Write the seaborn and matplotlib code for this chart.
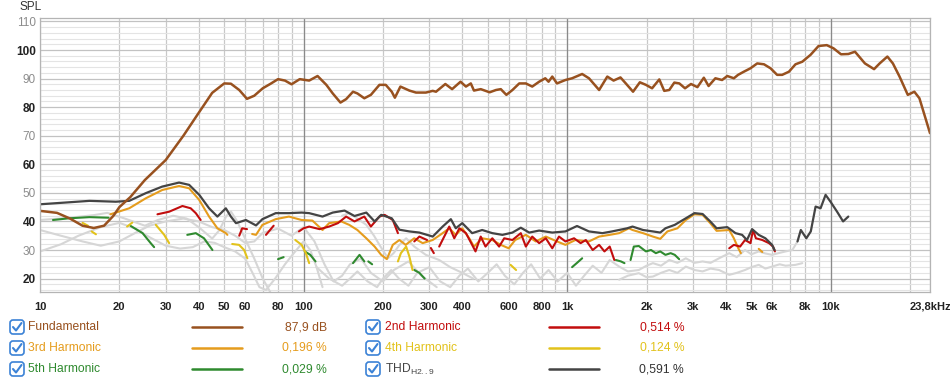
import numpy as np
import pandas as pd
import matplotlib.pyplot as plt
import seaborn as sns
from matplotlib.patches import FancyBboxPatch
from matplotlib.ticker import FixedLocator

nan = np.nan

# Fundamental response (Hz, dB SPL)
fund_f = [10, 11.6, 13, 14.5, 16, 17.5, 19, 20, 22, 25, 30, 35, 40, 45, 50, 53, 57, 61, 65, 70,
          75, 80, 85, 90, 96.7, 105, 113, 122, 129, 138, 145, 154, 160, 170, 180, 194, 205, 216,
          222, 233, 252, 267, 291, 309, 318, 345, 366, 394, 413, 431, 443, 470, 508, 537, 560,
          588, 620, 658, 697, 737, 783, 826, 850, 878, 915, 985, 1044, 1140, 1210, 1322, 1420,
          1500, 1593, 1669, 1778, 1887, 1990, 2100, 2236, 2335, 2440, 2550, 2664, 2800, 2950,
          3120, 3300, 3440, 3650, 3870, 4050, 4290, 4450, 4680, 4960, 5260, 5580, 5910, 6260,
          6540, 6940, 7350, 7800, 8380, 8990, 9660, 10240, 10940, 11660, 12360, 13480, 14600,
          15330, 16400, 17210, 18240, 19600, 20760, 21700, 23800]
fund_db = [43.7, 43, 41, 38.5, 37.7, 38.5, 42, 45, 48.5, 54.5, 61.5, 70, 78, 85, 88.3, 88.2, 86,
           82.9, 84, 86.6, 88.2, 89.8, 89.3, 88, 89.8, 89.3, 90.9, 87.8, 84.8, 81.6, 82.8, 85.4,
           84.8, 83.1, 84.3, 87.8, 87.8, 85.4, 83.3, 87.2, 85.8, 85.1, 85.1, 85.7, 85.4, 88.1,
           86.3, 88.9, 87.2, 88.3, 85.8, 86.3, 85.2, 86, 86.3, 84.3, 86, 88.3, 88.3, 87.2, 88.9,
           90.1, 88.9, 90.7, 88.3, 89.5, 90.1, 91.6, 90.1, 86, 90.7, 89.3, 90.4, 88.3, 85.4,
           88.7, 87.8, 86.6, 89.7, 85.7, 86, 88.6, 88.3, 86.6, 88.1, 87, 90.3, 87.4, 90.1, 89.5,
           90.9, 90.1, 91.3, 92.4, 93.6, 95.3, 95, 93.6, 91.3, 91.3, 92.4, 95, 95.9, 98.3, 101.4,
           101.7, 100.6, 98.5, 98.6, 99.4, 95.3, 93.3, 95.3, 97.7, 95.3, 90.7, 84.3, 85.4, 83.1,
           70.9]

# THD H2..9 (nan = gap)
thd_f = [10, 12.9, 15.4, 19.4, 21.8, 25.2, 29.1, 33.7, 36.8, 40.2, 43.8, 47.1, 50.7, 53, 55.4,
         60.4, 66, 69.8, 78.4, 88, 98.3, 105, 118, 129, 143, 156, 173, 186, 197, 216, 231, 252,
         275, 309, 337, 362, 378, 400, 436, 476, 520, 568, 620, 667, 718, 783, 878, 985, 1090,
         1210, 1360, 1480, 1690, 1770, 1940, 2115, 2255, 2360, 2560, 2820, 3040, 3265, 3490,
         3690, 4050, 4350, 4610, 4810, 5030, 5330, 5650, 5990, 6120, nan, 7480, 7700, 8080,
         8400, 8760, 9150, 9560, 9980, 10570, 11140, 11660]
thd_db = [46.0, 46.7, 47.2, 46.9, 47.2, 49.9, 52.2, 53.6, 52.8, 49.3, 44.6, 41.7, 44.6, 41.7,
          39.4, 40.5, 38.6, 40.8, 42.9, 42.9, 43.1, 42.9, 41.7, 43.1, 43.8, 41.9, 43.1, 40, 42.3,
          41.1, 37.1, 36.5, 36.1, 34.7, 38.2, 40.8, 37.6, 39.4, 35.9, 37.0, 35.9, 35.3, 36.1,
          37.8, 36.1, 36.8, 36.1, 36.5, 38.4, 36.5, 35.9, 36.5, 37.6, 38.2, 37.0, 36.5, 36.1,
          37.6, 38.8, 41.1, 42.9, 42.6, 40.0, 37.6, 38.0, 35.9, 35.3, 33.5, 37.3, 35.3, 34.1,
          31.8, 30.0, nan, 33.0, 37.0, 34.1, 36.5, 45.2, 44.6, 49.3, 46.9, 43.4, 40.0, 41.7]

# 2nd harmonic
h2_f = [27.9, 30.9, 34.7, 37.3, 39, 40.7, nan, 57, 58.5, 61, nan, 72, 77, nan, 96, 100, 105, 115,
        125, 135, 145, 156, 170, 180, 194, 203, 218, 228, nan, 263, 275, 294, nan, 304, 312, nan,
        327, 357, 373, 390, 413, 436, 449, 470, 490, 520, 552, 577, 620, 667, 697, 737, 783,
        830, 878, 931, 985, 1062, 1125, 1177, 1250, 1322, 1385, 1450, 1510, nan, 4120, 4290,
        4530, 4730, 4960, 5070, 5200, 5500, 5830, 6040, 6140]
h2_db = [42.5, 43.4, 45.4, 44.6, 42.9, 40.5, nan, 35, 37.6, 37.3, nan, 35.3, 38.5, nan, 36.5,
         37.6, 38.2, 37.3, 38.2, 39.4, 41.7, 40.0, 41.7, 38.2, 41.7, 42.3, 40.5, 35.9, nan, 33,
         34.7, 33.5, nan, 30.7, 28.9, nan, 31.2, 38.2, 34.1, 37.6, 35.9, 31.8, 29.5, 34.7, 31.2,
         34.1, 31.2, 34.1, 33.5, 35.9, 31.2, 34.7, 32.4, 34.1, 30.6, 34.7, 33.0, 34.1, 32.4,
         33.5, 30.0, 31.8, 29.5, 31.2, 26.5, nan, 30.6, 31.8, 31.2, 33.5, 32.4, 37.0, 34.1,
         33.5, 32.4, 31.2, 29.5]

# 3rd harmonic
h3_f = [18.5, 21.8, 25.2, 29.1, 33.7, 36.8, 40.2, 43.8, 47.1, 50.7, 51.4, nan, 63.8, 66, 69.8,
        78.4, 88, 98.3, 108, 118, 125, 139, 149, 160, 173, 186, 197, 207, 218, 231, 244, 263,
        283, 309, 337, 357, 378, 400, 425, 443, 476, 520, 560, 600, 635, 697, 760, 830, 915,
        985, 1075, 1210, 1322, 1450, 1575, 1715, 1770, 1940, 2115, 2255, 2400, 2620, 2820,
        3040, 3265, 3490, 3690, 4120, 4290, 4460, 4560, nan, 5330, 5500]
h3_db = [42.5, 44.6, 48.1, 51.0, 52.4, 51.6, 47.5, 41.7, 37.6, 35.9, 35.3, nan, 35.6, 35.3,
         38.8, 40.8, 41.7, 40.5, 40.3, 37.0, 39.4, 40, 38.8, 37.0, 34.1, 31.2, 28.3, 26.8, 31.8,
         33.5, 31.8, 34.1, 32.4, 33.5, 35.9, 37.6, 35.3, 37.6, 34.1, 31.2, 34.1, 33.5, 31.8,
         30.6, 33.5, 35.3, 33.0, 34.7, 33.0, 31.8, 33.5, 33.0, 34.7, 35.3, 35.9, 37.6, 37.0,
         35.9, 34.7, 33.9, 36.5, 37.6, 40.5, 42.5, 42.3, 39.4, 36.7, 37.0, 34.1, 30.6, 28.9,
         nan, 30.4, 29.3]

# 4th harmonic
h4_f = [14.5, 15.2, nan, 15.7, 16.3, nan, 21.4, 22.4, nan, 27.5, 29.6, 30.9, nan, 53.6, 56.9,
        59.5, 61.2, nan, 93, 98.3, 102, 105, nan, 228, 234, 245, 252, 259, nan, 610, 640]
h4_db = [39.5, 38.5, nan, 36.5, 35.5, nan, 38.2, 39.6, nan, 38.8, 35.3, 32.4, nan, 32.1, 31.8,
         30.0, 27.1, nan, 33.5, 31.8, 28.9, 25.4, nan, 26.0, 28.9, 31.2, 27.7, 23.0, nan, 24.8,
         23.0]

# 5th harmonic
h5_f = [11.2, 12.9, 15.4, 18.2, nan, 22.1, 24.5, 26.3, 27.1, nan, 36.2, 39.0, 41.9, 45.1, nan,
        80, 84, nan, 101, 106, 111, nan, 154, 163, 170, nan, 176, 182, nan, 263, 275, 288, nan,
        1044, 1090, 1140, nan, 1530, 1600, 1650, nan, 1740, 1790, 1870, 1990, 2080, 2170, 2255,
        2360, 2470, 2560, 2660]
h5_db = [40.5, 41.1, 41.5, 41.3, nan, 38.4, 35.9, 32.4, 31.0, nan, 35.3, 35.9, 34.1, 30.0, nan,
         26.8, 27.5, nan, 29.5, 28.3, 26.0, nan, 25.4, 28.3, 26.0, nan, 26.0, 25.0, nan, 23.0,
         22.0, 20.0, nan, 24.0, 25.5, 27.1, nan, 26.5, 26.0, 25.4, nan, 26.5, 31.2, 31.4, 29.5,
         30.0, 28.9, 29.5, 28.3, 28.9, 28.3, 26.8]

# light grey traces (higher harmonics, partly hidden)
grey1_f = [10, 13, 16, 18, 21, 25, 28, 32, 36, 40, 45, 48, 51, 53, 56, 60, 65, 70, 75]
grey1_db = [40.5, 41.3, 42.2, 43, 41, 38.5, 40.5, 42, 41, 38, 34, 37, 42, 43.5, 40, 34, 27, 20, 15]
grey2_f = [10, 12, 14.5, 17, 20, 23, 26, 30, 35, 40, 45, 50, 55, 60, 65, 70, 80, 90, 100, 110,
           120, 130, 140, 150, 165, 180, 200, 220, 250, 280, 320]
grey2_db = [37, 35, 33, 31.5, 33, 36, 38.5, 40, 41, 40, 38, 37, 35, 32.5, 33, 36, 37.5, 35, 38,
            33, 25, 19, 21, 25, 27, 22, 19, 23, 26, 21, 17]
grey3_f = [10, 12, 14, 17, 20, 23, 26, 30, 34, 38, 42, 46, 50, 55, 60, 64, 68, 72, 78, 85, 92,
           100, 106, 112, 118]
grey3_db = [29.5, 32, 35, 38, 39.5, 37.5, 34.5, 31.5, 30.5, 31, 33, 32.5, 31, 29.5, 27, 22, 17,
            16, 20, 25, 29, 33, 30, 24, 17]
grey4_f = [112, 125, 140, 150, 160, 175, 190, 200, 215, 230, 250, 270, 300, 330, 360, 390, 420,
           460, 500, 540, 580, 630, 680, 730, 790, 850, 920, 1000, 1080, 1160, 1250, 1350, 1450,
           1575, 1700, 1870, 2000, 2115, 2270, 2440, 2620, 2820, 3040, 3265, 3500, 3770, 4120,
           4400, 4730, 5000, 5330, 5650, 5990, 6330, 6740, 7150, 7480]
grey4_db = [24, 20, 17.5, 20, 22.5, 19, 17, 20, 23, 20, 17.5, 22, 24, 19, 17, 21, 23.5, 19, 22,
            25, 21, 18, 22, 25, 20, 23, 19, 22, 17.5, 21, 24.5, 22, 26.5, 24.2, 22.5, 23, 24.5,
            25.4, 24.5, 26.5, 25.5, 27.1, 25.5, 26, 25.5, 27.1, 28.9, 27.5, 30, 28.5, 29.5, 28.8,
            28.3, 28.9, 29.5, 30, 33]
grey5_f = [1575, 1700, 1870, 2000, 2115, 2270, 2440, 2620, 2820, 3040, 3265, 3500, 3770, 4120,
           4400, 4730, 5000, 5330, 5650, 5990, 6400, 6740, 7350, 7800]
grey5_db = [19.6, 21, 21.9, 20.5, 20.7, 22, 23, 22, 24.2, 23, 22.5, 23.5, 23, 21.3, 22, 23, 24,
            24.8, 23.5, 24.2, 25, 24.5, 24.8, 25.4]
grey6_f = [140, 149, 160, 173, 185, 194, 209, 220, 231, 245, 263, 291, 327, 360, 400, 440]
grey6_db = [42, 42.9, 41, 38.8, 35, 31.8, 27.1, 29, 31.8, 34.1, 31.2, 28.3, 26.5, 24, 22, 20]

# axis ticks
xtick_pos = [10, 20, 30, 40, 50, 60, 80, 100, 200, 300, 400, 600, 800, 1000, 2000, 3000, 4000,
             5000, 6000, 8000, 10000, 23800]
xtick_labels = ["10", "20", "30", "40", "50", "60", "80", "100", "200", "300", "400", "600",
                "800", "1k", "2k", "3k", "4k", "5k", "6k", "8k", "10k", "23,8kHz"]
ytick_pos = [20, 30, 40, 50, 60, 70, 80, 90, 100, 110]

# legend
legend_names = ["Fundamental", "2nd Harmonic", "3rd Harmonic", "4th Harmonic", "5th Harmonic",
                "THD$_{\\mathregular{H2..9}}$"]
legend_values = ["87,9 dB", "0,514 %", "0,196 %", "0,124 %", "0,029 %", "0,591 %"]

c_fund = "#98511f"
c_h2 = "#c20d0d"
c_h3 = "#e59c1d"
c_h4 = "#e2c21b"
c_h5 = "#2f8a2f"
c_thd = "#444444"
c_grey = "#d6d6d6"


def to_frame(f, db):
    f = np.asarray(f, dtype=float)
    db = np.asarray(db, dtype=float)
    seg = np.cumsum(np.isnan(f))
    return pd.DataFrame({"f": f, "db": db, "seg": seg}).dropna()


sns.set_style("white")
plt.rcParams["font.family"] = ["Liberation Sans", "DejaVu Sans"]

fig = plt.figure(figsize=(9.5, 3.85), dpi=100)
ax = fig.add_axes([40 / 950, 1 - 292 / 385, 890 / 950, 274 / 385])
ax.set_xscale("log")

# grid
minor_x = [k * 10 ** d for d in range(1, 5) for k in range(1, 10)
           if 10 <= k * 10 ** d <= 23800 and k * 10 ** d not in xtick_pos]
ax.set_xticks(xtick_pos)
ax.set_xticklabels(xtick_labels)
ax.xaxis.set_minor_locator(FixedLocator(minor_x))
ax.set_yticks(ytick_pos)
ax.yaxis.set_minor_locator(FixedLocator(list(range(16, 112, 2))))
ax.grid(which="major", axis="x", color="#c8c8c8", lw=0.9)
ax.grid(which="minor", axis="x", color="#c8c8c8", lw=0.9)
ax.grid(which="major", axis="y", color="#c2c2c2", lw=0.9)
ax.grid(which="minor", axis="y", color="#e4e4e4", lw=0.8)
ax.set_axisbelow(True)
for v in (100, 1000, 10000):
    ax.axvline(v, color="#8a8a8a", lw=0.9, zorder=1)

greys = [(grey1_f, grey1_db), (grey2_f, grey2_db), (grey3_f, grey3_db),
         (grey4_f, grey4_db), (grey5_f, grey5_db), (grey6_f, grey6_db)]
for gf, gdb in greys:
    d = to_frame(gf, gdb)
    sns.lineplot(data=d, x="f", y="db", units="seg", estimator=None, sort=False,
                 color=c_grey, lw=1.5, legend=False, ax=ax)

series = [(h5_f, h5_db, c_h5, 1.5), (h4_f, h4_db, c_h4, 1.5), (h3_f, h3_db, c_h3, 1.5),
          (h2_f, h2_db, c_h2, 1.5), (thd_f, thd_db, c_thd, 1.6), (fund_f, fund_db, c_fund, 1.8)]
for sf, sdb, col, w in series:
    d = to_frame(sf, sdb)
    sns.lineplot(data=d, x="f", y="db", units="seg", estimator=None, sort=False,
                 color=col, lw=w, legend=False, ax=ax)

ax.set_xlim(10, 23800)
ax.set_ylim(15.3, 111.2)
ax.set_xlabel("")
ax.set_ylabel("")
ax.tick_params(which="both", length=0)
ax.tick_params(axis="x", pad=7, labelsize=8, labelcolor="#222222")
ax.tick_params(axis="y", pad=3, labelsize=8.5)
for lbl in ax.get_xticklabels():
    lbl.set_fontweight("bold")
for lbl, v in zip(ax.get_yticklabels(), ytick_pos):
    if v % 20 == 0:
        lbl.set_fontweight("bold")
        lbl.set_color("#222222")
    else:
        lbl.set_color("#8c8c8c")
for s in ax.spines.values():
    s.set_color("#b4b4b4")
    s.set_linewidth(0.9)

# overlay in pixel units for the title and legend block
lg = fig.add_axes([0, 0, 1, 1])
lg.set_xlim(0, 950)
lg.set_ylim(385, 0)
lg.axis("off")
lg.text(20, 7, "SPL", fontsize=8.5, color="#333333", va="center", ha="left")

colors = [c_fund, c_h2, c_h3, c_h4, c_h5, c_thd]
rows_y = [327, 348, 369]
for i, (name, val, col) in enumerate(zip(legend_names, legend_values, colors)):
    colnum = i % 2
    cy = rows_y[i // 2]
    cx = 17 if colnum == 0 else 373
    lg.add_patch(FancyBboxPatch((cx - 7, cy - 7), 14, 14,
                                boxstyle="round,pad=0,rounding_size=3",
                                ec="#3b82d6", fc="white", lw=1.2))
    lg.plot([cx - 4, cx - 1, cx + 4.5], [cy, cy + 3.5, cy - 4], color="#3b82d6", lw=1.5,
            solid_capstyle="round", solid_joinstyle="round")
    tx = 28 if colnum == 0 else 385
    lg.text(tx, cy, name, color=col, fontsize=8.7, va="center", ha="left")
    lx = 192 if colnum == 0 else 549
    lg.plot([lx, lx + 50], [cy, cy], color=col, lw=1.8)
    vx = 327 if colnum == 0 else 684
    vcol = "#333333" if i == 5 else col
    lg.text(vx, cy, val, color=vcol, fontsize=8.7, va="center", ha="right")

fig.savefig("out.png", dpi=100)
